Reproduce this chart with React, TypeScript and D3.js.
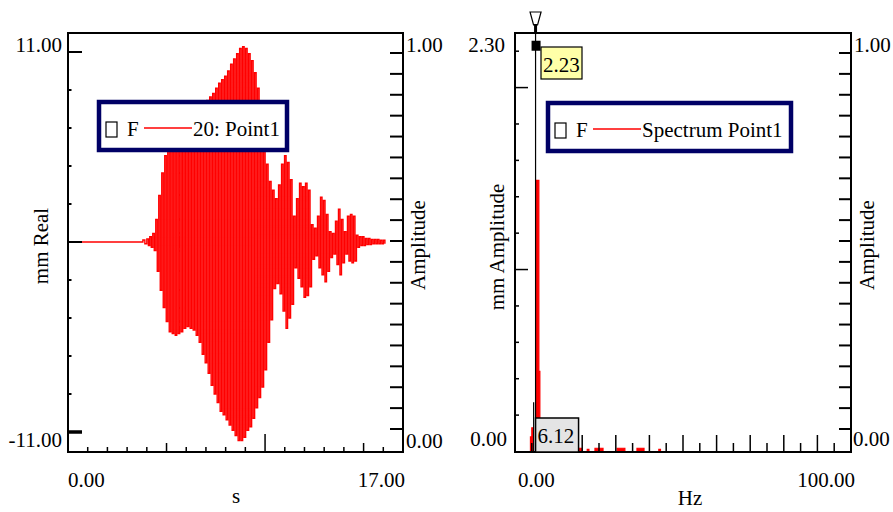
import React from 'react';
import * as d3 from 'd3';

// ---------- Left panel data (time signal, mm Real vs s) ----------
const leftYLabel = 'mm Real';
const leftXLabel = 's';
const leftXTickLabels = ['0.00', '17.00'];
const leftYTickLabels = ['11.00', '-11.00'];
const ampTickLabels = ['1.00', '0.00'];
const leftLegend = '20: Point1';

// quiet lead-in before the event
const preTimes = [0, 3.6, 3.8, 3.9, 4.0, 4.08];
const preValues = [0, 0, 0.12, -0.1, 0.18, -0.2];

// envelope: positive and negative peaks, one pair per step
const envStartS = 4.15;
const envStepS = 0.152;
const envTop = [
  0.3, 0.5, 1.3, 2.7, 4.0, 5.0, 5.3, 5.5, 5.8, 6.0,
  6.2, 6.4, 6.6, 6.8, 7.0, 7.2, 7.5, 7.7, 7.9, 8.2,
  8.4, 8.6, 8.9, 9.2, 9.4, 9.6, 9.9, 10.3, 10.6, 10.9,
  11.2, 11.3, 11.2, 10.9, 10.5, 9.8, 8.9, 7.5, 6.0, 4.5,
  3.5, 3.0, 2.5, 3.3, 4.5, 5.0, 4.6, 3.6, 1.5, 2.5,
  3.4, 3.2, 3.4, 3.0, 1.0, 0.8, 1.5, 2.6, 2.4, 1.6,
  0.6, 0.5, 1.2, 1.9, 1.3, 0.6, 1.5, 1.6, 1.5, 0.4,
  0.3, 0.3, 0.2, 0.2, 0.15, 0.15, 0.15, 0.1, 0.1,
];
const envBottom = [
  -0.3, -0.5, -1.7, -2.8, -3.8, -4.6, -5.2, -5.3, -5.4, -5.3,
  -5.2, -5.0, -4.9, -5.0, -5.1, -5.4, -5.8, -6.5, -7.0, -7.6,
  -8.3, -8.8, -9.3, -9.8, -10.0, -10.3, -10.6, -10.9, -11.2, -11.5,
  -11.5, -11.3, -10.9, -10.7, -10.2, -9.6, -9.0, -8.4, -7.4, -5.8,
  -4.5, -2.7, -2.4, -3.0, -4.0, -5.0, -4.4, -3.6, -1.5, -2.1,
  -2.6, -3.2, -3.1, -2.6, -1.0, -0.8, -1.5, -1.9, -2.3, -1.7,
  -0.9, -0.7, -1.3, -1.9, -1.2, -0.7, -1.1, -1.2, -1.1, -0.3,
  -0.2, -0.2, -0.15, -0.15, -0.1, -0.1, -0.1, -0.1, -0.1,
];

// ---------- Right panel data (spectrum, mm Amplitude vs Hz) ----------
const rightYLabel = 'mm Amplitude';
const rightXLabel = 'Hz';
const rightXTickLabels = ['0.00', '100.00'];
const rightYTickLabels = ['2.30', '0.00'];
const rightLegend = 'Spectrum Point1';
const specHz = [0, 4.6, 4.9, 5.0, 5.3, 6.2, 7.1, 7.4, 7.7, 18.8, 19.8, 21.5, 22.0, 23.8, 26.2, 30.4, 32.7, 36.3, 38.4, 42.8, 43.3, 100];
const specAmp = [0, 0.08, 0, 0.13, 0, 1.49, 0.44, 0.18, 0, 0.018, 0, 0.012, 0, 0.018, 0, 0.018, 0, 0.018, 0, 0.012, 0, 0];
const cursorHz = 6.12;
const cursorValue = 2.23;
const cursorLabel = '6.12';
const cursorValueLabel = '2.23';
const sideLineHz = 5.55;
const sideLineAmp = 0.27;

const FONT = "Liberation Serif, Times New Roman, Times, serif";
const FS = 21;
const NAVY = '#000066';
const RED = '#ff0000';

function T(props: any) {
  return <text fontFamily={FONT} fontSize={FS} fill="#000" {...props} />;
}

function Legend({ x, y, w, h, text }: { x: number; y: number; w: number; h: number; text: string }) {
  return (
    <g>
      <rect x={x + 2} y={y + 2} width={w - 4} height={h - 4} fill="#fff" stroke={NAVY} strokeWidth={4.5} />
      <rect x={x + 9} y={y + 22} width={11} height={15} fill="none" stroke="#000" strokeWidth={1.2} />
      <T x={x + 30} y={y + 36}>F</T>
      <line x1={x + 47} x2={x + 95} y1={y + 28} y2={y + 28} stroke={RED} strokeWidth={1.5} />
      <T x={x + 96} y={y + 36}>{text}</T>
    </g>
  );
}

export default function App() {
  // scales
  const xL = d3.scaleLinear().domain([0, 17]).range([68, 403]);
  const yL = d3.scaleLinear().domain([-11, 11]).range([432, 52]);
  const yAmpL = d3.scaleLinear().domain([0, 1]).range([429, 53]);
  const xR = d3.scaleLinear().domain([0, 100]).range([515, 851]);
  const yR = d3.scaleLinear().domain([0, 2.3]).range([451.5, 33]);
  const yAmpR = d3.scaleLinear().domain([0, 1]).range([429, 53]);

  // waveform points: each envelope pair drawn as an up/down swing
  const pts: [number, number][] = preTimes.map((t, i) => [t, preValues[i]] as [number, number]);
  envTop.forEach((v, i) => {
    const t = envStartS + i * envStepS;
    pts.push([t, v]);
    pts.push([t + envStepS / 2, envBottom[i]]);
  });
  const wave = d3.line<[number, number]>().x((d) => xL(d[0])).y((d) => yL(d[1])).curve(d3.curveStepAfter)(pts) || '';

  const specPts = specHz.map((f, i) => [f, specAmp[i]] as [number, number]);
  const specLine = d3.line<[number, number]>().x((d) => xR(d[0])).y((d) => yR(d[1])).curve(d3.curveStepAfter)(specPts) || '';
  const specArea = d3.area<[number, number]>().x((d) => xR(d[0])).y0(yR(0)).y1((d) => yR(d[1])).curve(d3.curveStepAfter)(specPts) || '';

  const leftYTicks = d3.range(-5, 6).map((k) => ({ v: k * 2.2, long: k % 5 === 0, thick: k === -5 }));
  const leftXTicks = d3.range(1, 17).map((t) => ({ v: t, len: t % 10 === 0 ? 18 : t % 5 === 0 ? 9 : 5 }));
  const ampTicks = d3.range(0, 19).map((i) => i / 18);
  const rightYTicks = d3.range(1, 12).map((k) => ({ v: k * 0.2, long: k % 5 === 0 }));
  const rightXTicks = d3.range(5, 100, 5).map((f) => ({ v: f, len: f % 10 === 0 ? 17 : 9 }));

  const cx = xR(cursorHz);

  return (
    <svg width={893} height={512} style={{ position: 'absolute', left: 0, top: 0, background: '#fff', fontFamily: FONT }}>
      <defs>
        <clipPath id="clipL"><rect x={68} y={33} width={335} height={419} /></clipPath>
        <clipPath id="clipR"><rect x={515} y={33} width={336} height={419} /></clipPath>
      </defs>

      {/* ================= LEFT PANEL ================= */}
      <path d={wave} fill="none" stroke={RED} strokeWidth={1.4} clipPath="url(#clipL)" />
      <rect x={68} y={33} width={335} height={419} fill="none" stroke="#000" strokeWidth={2} />
      {leftYTicks.map((t, i) => (
        <line key={i} x1={68} x2={68 + (t.long ? 14 : 3.5)} y1={yL(t.v)} y2={yL(t.v)} stroke="#000" strokeWidth={t.thick ? 3.5 : 2} />
      ))}
      {leftXTicks.map((t, i) => (
        <line key={i} x1={xL(t.v)} x2={xL(t.v)} y1={452} y2={452 - t.len} stroke="#000" strokeWidth={1.5} />
      ))}
      {ampTicks.map((v, i) => (
        <line key={i} x1={390} x2={403} y1={yAmpL(v)} y2={yAmpL(v)} stroke="#000" strokeWidth={2} />
      ))}
      <Legend x={97} y={100} w={192} h={52} text={leftLegend} />
      <T x={62} y={52} textAnchor="end">{leftYTickLabels[0]}</T>
      <T x={62} y={447} textAnchor="end">{leftYTickLabels[1]}</T>
      <T x={406} y={52}>{ampTickLabels[0]}</T>
      <T x={406} y={448}>{ampTickLabels[1]}</T>
      <T x={68} y={487}>{leftXTickLabels[0]}</T>
      <T x={405} y={487} textAnchor="end">{leftXTickLabels[1]}</T>
      <T x={236} y={503} textAnchor="middle">{leftXLabel}</T>
      <T transform="translate(48,246) rotate(-90)" textAnchor="middle">{leftYLabel}</T>
      <T transform="translate(425,245) rotate(-90)" textAnchor="middle">Amplitude</T>

      {/* ================= RIGHT PANEL ================= */}
      <g clipPath="url(#clipR)">
        <path d={specArea} fill={RED} stroke="none" />
        <path d={specLine} fill="none" stroke={RED} strokeWidth={1.2} />
      </g>
      <rect x={515} y={33} width={336} height={419} fill="none" stroke="#000" strokeWidth={2} />
      {rightYTicks.map((t, i) => (
        <line key={i} x1={515} x2={515 + (t.long ? 13 : 4)} y1={yR(t.v)} y2={yR(t.v)} stroke="#000" strokeWidth={1.5} />
      ))}
      {rightXTicks.map((t, i) => (
        <line key={i} x1={xR(t.v)} x2={xR(t.v)} y1={452} y2={452 - t.len} stroke="#000" strokeWidth={1.5} />
      ))}
      {ampTicks.map((v, i) => (
        <line key={i} x1={839} x2={851} y1={yAmpR(v)} y2={yAmpR(v)} stroke="#000" strokeWidth={2} />
      ))}
      {/* cursor */}
      <line x1={xR(sideLineHz)} x2={xR(sideLineHz)} y1={yR(0)} y2={yR(sideLineAmp)} stroke="#000" strokeWidth={1.2} />
      <line x1={cx} x2={cx} y1={22} y2={452} stroke="#000" strokeWidth={1.2} />
      <polygon points={`${cx - 5.5},12 ${cx + 5.5},12 ${cx + 2},25 ${cx - 2},25`} fill="#fff" stroke="#000" strokeWidth={1.2} />
      <rect x={cx - 1.5} y={24} width={3} height={9} fill="#000" />
      <rect x={cx - 4} y={yR(cursorValue) - 5} width={9} height={10} fill="#000" />
      <rect x={541} y={47} width={41} height={32} fill="#ffffa8" stroke="#000" strokeWidth={1.2} />
      <T x={543} y={72}>{cursorValueLabel}</T>
      <rect x={cx} y={418} width={43} height={34} fill="#e4e4e4" stroke="#000" strokeWidth={1.5} />
      <T x={cx + 2} y={443}>{cursorLabel}</T>

      <Legend x={546} y={101} w={247} h={52} text={rightLegend} />
      <T x={505} y={52} textAnchor="end">{rightYTickLabels[0]}</T>
      <T x={507} y={446} textAnchor="end">{rightYTickLabels[1]}</T>
      <T x={854} y={52}>{ampTickLabels[0]}</T>
      <T x={853} y={446}>{ampTickLabels[1]}</T>
      <T x={518} y={487}>{rightXTickLabels[0]}</T>
      <T x={855} y={487} textAnchor="end">{rightXTickLabels[1]}</T>
      <T x={690} y={505} textAnchor="middle">{rightXLabel}</T>
      <T transform="translate(504,247) rotate(-90)" textAnchor="middle">{rightYLabel}</T>
      <T transform="translate(874,245) rotate(-90)" textAnchor="middle">Amplitude</T>
    </svg>
  );
}
